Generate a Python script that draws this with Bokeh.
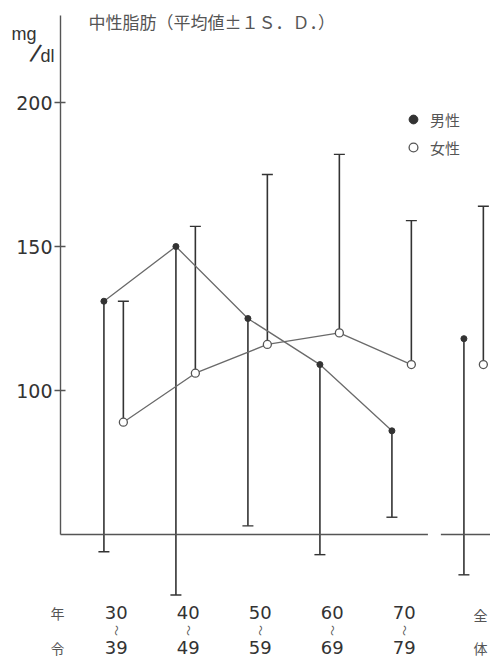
import math

from bokeh.core.properties import value
from bokeh.embed import file_html
from bokeh.models import (ColumnDataSource, FixedTicker, Label, Legend, LegendItem,
                          LinearAxis, Range1d, TeeHead, Whisker)
from bokeh.plotting import figure
from bokeh.resources import INLINE

# --- data: serum triglyceride by age group (mean ± 1 S.D.), mg/dl ---
age_from = ["30", "40", "50", "60", "70"]
age_to = ["39", "49", "59", "69", "79"]
group_pos = [0, 1, 2, 3, 4, 5]          # last slot = all ages (全体)

men_mean = [131, 150, 125, 109, 86, 118]
men_sd = [87, 121, 72, 66, 30, 82]
women_mean = [89, 106, 116, 120, 109, 109]
women_sd = [42, 51, 59, 62, 50, 55]

y_ticks = [100, 150, 200]
BASE_VALUE = 50

# --- canvas geometry ---
W, H = 490, 659
X0_PX, PX_PER_GROUP = 113.5, 72.0      # pixel of group 0 centre, spacing
Y100_PX, PX_PER_UNIT = 390.0, 2.88     # pixel of 100 mg/dl, scale


def xd(px):
    return (px - X0_PX) / PX_PER_GROUP


def yd(py):
    return 100 + (Y100_PX - py) / PX_PER_UNIT


MEN_OFF, WOMEN_OFF = -0.14, 0.13
DARK, MID, LINE = "#333333", "#555555", "#6a6a6a"

p = figure(width=W, height=H, output_backend="svg", toolbar_location=None,
           x_range=Range1d(xd(0), xd(W)), y_range=Range1d(yd(H), yd(0)),
           x_axis_type=None, y_axis_type=None, min_border=0)
p.outline_line_color = None
p.grid.visible = False
p.background_fill_color = "white"

# vertical axis drawn inside the frame at its own location
yaxis = LinearAxis(ticker=FixedTicker(ticks=y_ticks), fixed_location=xd(60),
                   bounds=(BASE_VALUE, yd(15)))
yaxis.axis_line_color = MID
yaxis.axis_line_width = 1.4
yaxis.major_tick_line_color = MID
yaxis.major_tick_line_width = 1.4
yaxis.major_tick_in = 5
yaxis.major_tick_out = 6
yaxis.minor_tick_line_color = None
yaxis.major_label_standoff = 2
yaxis.major_label_text_font = "DejaVu Sans"
yaxis.major_label_text_font_size = "19px"
yaxis.major_label_text_color = DARK
p.add_layout(yaxis, "left")

# baseline at 50 mg/dl, broken before the all-ages column
p.segment(x0=[xd(60), 4.54], x1=[4.36, xd(W) + 0.1], y0=[BASE_VALUE] * 2,
          y1=[BASE_VALUE] * 2, line_color=MID, line_width=1.4)

men_x = [g + MEN_OFF for g in group_pos]
women_x = [g + WOMEN_OFF for g in group_pos]

men_src = ColumnDataSource(dict(
    x=men_x, mean=men_mean, lower=[m - s for m, s in zip(men_mean, men_sd)]))
women_src = ColumnDataSource(dict(
    x=women_x, mean=women_mean, upper=[m + s for m, s in zip(women_mean, women_sd)]))

# men: whisker down to mean - SD, women: whisker up to mean + SD
p.add_layout(Whisker(base="x", upper="mean", lower="lower", source=men_src,
                     upper_head=None,
                     lower_head=TeeHead(size=11, line_color=DARK, line_width=1.4),
                     line_color=DARK, line_width=1.6))
p.add_layout(Whisker(base="x", upper="upper", lower="mean", source=women_src,
                     lower_head=None,
                     upper_head=TeeHead(size=11, line_color=DARK, line_width=1.4),
                     line_color=DARK, line_width=1.6))

# trend lines across the age groups (not the all-ages column)
p.line(men_x[:5], men_mean[:5], line_color=LINE, line_width=1.3)
p.line(women_x[:5], women_mean[:5], line_color=LINE, line_width=1.3)

men_r = p.scatter("x", "mean", source=men_src, marker="circle", size=6,
                  fill_color=DARK, line_color=DARK)
women_r = p.scatter("x", "mean", source=women_src, marker="circle", size=8,
                    fill_color="white", line_color=MID, line_width=1.3)

legend = Legend(items=[LegendItem(label="男性", renderers=[men_r]),
                       LegendItem(label="女性", renderers=[women_r])],
                location=(402, H - 158), orientation="vertical",
                padding=0, margin=0, spacing=6, glyph_width=22, glyph_height=22,
                label_standoff=6, label_height=22,
                label_text_font="Noto Sans CJK JP", label_text_font_size="15px",
                label_text_color="#555555", border_line_color=None,
                background_fill_alpha=0)
p.add_layout(legend)

# age labels below the chart
label_x = [g + 0.03 for g in group_pos[:5]]
num_style = dict(text_font=value("DejaVu Sans"), text_font_size="18px",
                 text_color=DARK, text_align="center", text_baseline="middle")
p.text(x=label_x, y=[yd(612)] * 5, text=age_from, **num_style)
p.text(x=label_x, y=[yd(647)] * 5, text=age_to, **num_style)
p.text(x=label_x, y=[yd(630)] * 5, text=["〜"] * 5, angle=math.pi / 2,
       text_font=value("Noto Sans CJK JP"), text_font_size="11px", text_color=MID,
       text_align="center", text_baseline="middle")

cjk_style = dict(text_font=value("Noto Sans CJK JP"), text_font_size="14px",
                 text_color=MID, text_align="center", text_baseline="middle")
p.text(x=[xd(57), xd(57)], y=[yd(612), yd(647)], text=["年", "令"], **cjk_style)
p.text(x=[xd(480), xd(480)], y=[yd(614), yd(647)], text=["全", "体"], **cjk_style)

# title and unit
p.add_layout(Label(x=88, y=H - 21, x_units="screen", y_units="screen",
                   text="中性脂肪（平均値±１Ｓ．Ｄ．）", text_font="Noto Sans CJK JP",
                   text_font_size="17px", text_color=MID, text_baseline="middle"))
p.add_layout(Label(x=11, y=H - 33, x_units="screen", y_units="screen", text="mg",
                   text_font="Liberation Sans", text_font_size="18px",
                   text_color=DARK, text_baseline="middle"))
p.add_layout(Label(x=35, y=H - 53, x_units="screen", y_units="screen", text="/",
                   text_font="Liberation Sans", text_font_size="26px", angle=-0.3,
                   text_color=DARK, text_baseline="middle", text_align="center"))
p.add_layout(Label(x=40, y=H - 55, x_units="screen", y_units="screen", text="dl",
                   text_font="Liberation Sans", text_font_size="18px",
                   text_color=DARK, text_baseline="middle"))

open("out.html", "w").write(file_html(p, INLINE))
